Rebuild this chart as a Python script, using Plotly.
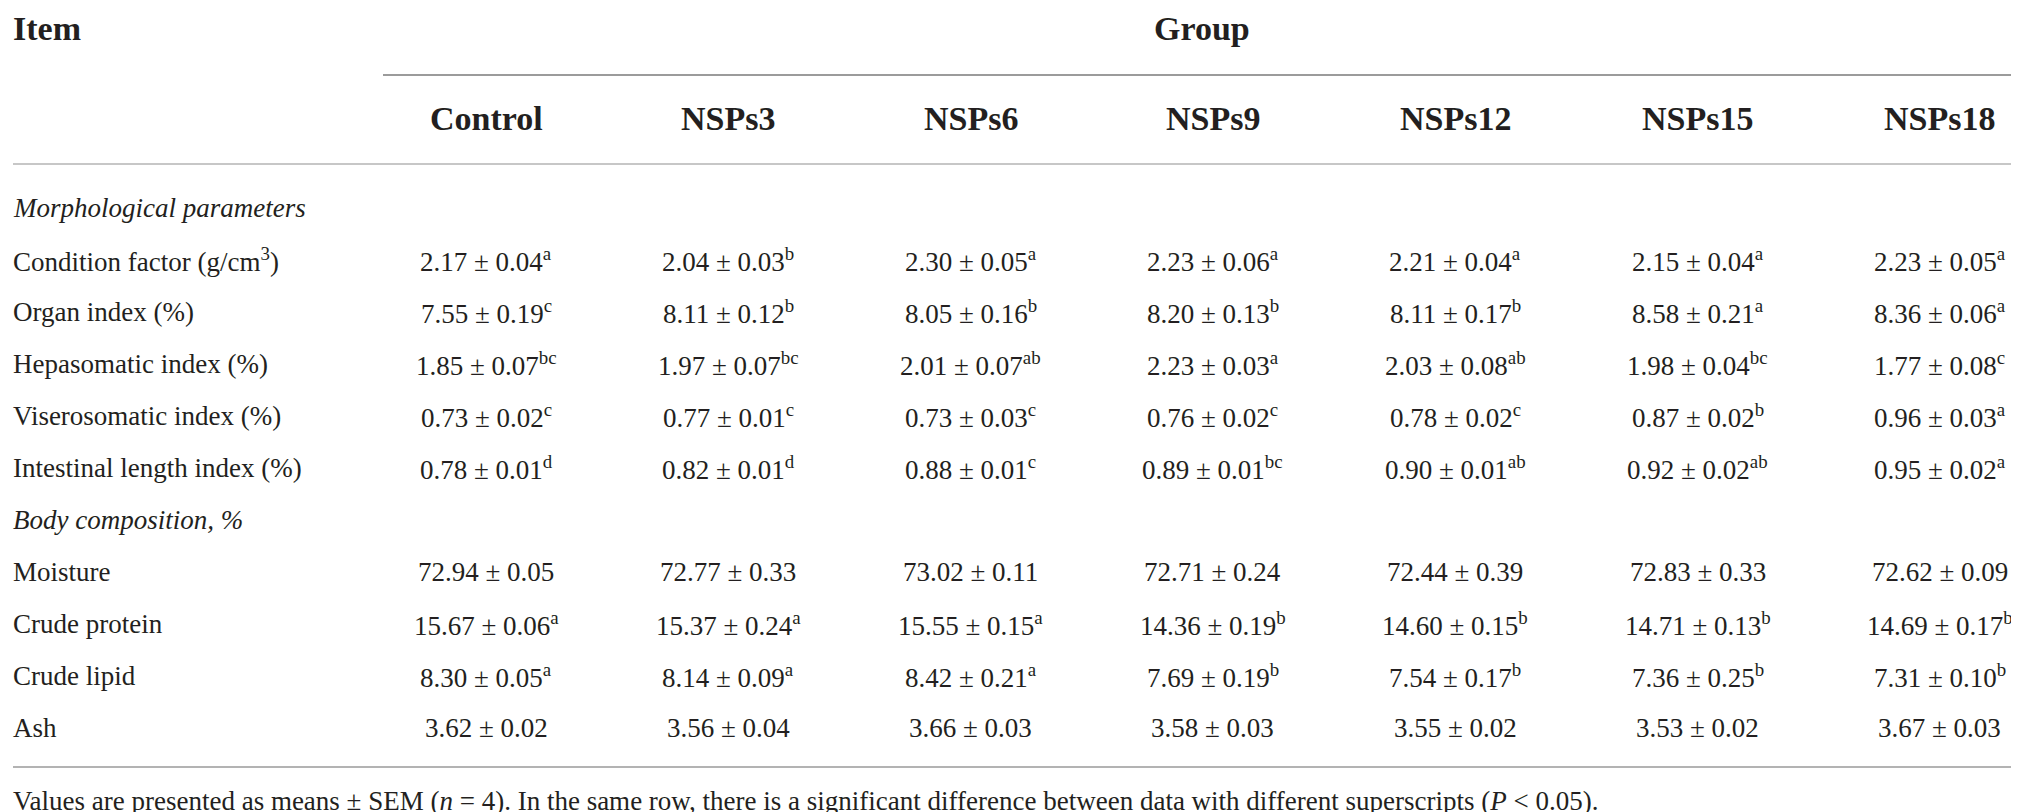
import plotly.graph_objects as go

# ---------------- data ----------------
groups = ["Control", "NSPs3", "NSPs6", "NSPs9", "NSPs12", "NSPs15", "NSPs18"]

section_morph = "Morphological parameters"
section_body = "Body composition, %"

items_morph = ["Condition factor (g/cm<sup>3</sup>)", "Organ index (%)", "Hepasomatic index (%)",
               "Viserosomatic index (%)", "Intestinal length index (%)"]
items_body = ["Moisture", "Crude protein", "Crude lipid", "Ash"]

condition_mean = ["2.17", "2.04", "2.30", "2.23", "2.21", "2.15", "2.23"]
condition_sem = ["0.04", "0.03", "0.05", "0.06", "0.04", "0.04", "0.05"]
condition_sig = ["a", "b", "a", "a", "a", "a", "a"]

organ_mean = ["7.55", "8.11", "8.05", "8.20", "8.11", "8.58", "8.36"]
organ_sem = ["0.19", "0.12", "0.16", "0.13", "0.17", "0.21", "0.06"]
organ_sig = ["c", "b", "b", "b", "b", "a", "a"]

hepa_mean = ["1.85", "1.97", "2.01", "2.23", "2.03", "1.98", "1.77"]
hepa_sem = ["0.07", "0.07", "0.07", "0.03", "0.08", "0.04", "0.08"]
hepa_sig = ["bc", "bc", "ab", "a", "ab", "bc", "c"]

visero_mean = ["0.73", "0.77", "0.73", "0.76", "0.78", "0.87", "0.96"]
visero_sem = ["0.02", "0.01", "0.03", "0.02", "0.02", "0.02", "0.03"]
visero_sig = ["c", "c", "c", "c", "c", "b", "a"]

intest_mean = ["0.78", "0.82", "0.88", "0.89", "0.90", "0.92", "0.95"]
intest_sem = ["0.01", "0.01", "0.01", "0.01", "0.01", "0.02", "0.02"]
intest_sig = ["d", "d", "c", "bc", "ab", "ab", "a"]

moisture_mean = ["72.94", "72.77", "73.02", "72.71", "72.44", "72.83", "72.62"]
moisture_sem = ["0.05", "0.33", "0.11", "0.24", "0.39", "0.33", "0.09"]
moisture_sig = ["", "", "", "", "", "", ""]

protein_mean = ["15.67", "15.37", "15.55", "14.36", "14.60", "14.71", "14.69"]
protein_sem = ["0.06", "0.24", "0.15", "0.19", "0.15", "0.13", "0.17"]
protein_sig = ["a", "a", "a", "b", "b", "b", "b"]

lipid_mean = ["8.30", "8.14", "8.42", "7.69", "7.54", "7.36", "7.31"]
lipid_sem = ["0.05", "0.09", "0.21", "0.19", "0.17", "0.25", "0.10"]
lipid_sig = ["a", "a", "a", "b", "b", "b", "b"]

ash_mean = ["3.62", "3.56", "3.66", "3.58", "3.55", "3.53", "3.67"]
ash_sem = ["0.02", "0.04", "0.03", "0.03", "0.02", "0.02", "0.03"]
ash_sig = ["", "", "", "", "", "", ""]

footnote = ("Values are presented as means \u00b1 SEM (<i>n</i> = 4). In the same row, there is a significant "
            "difference between data with different superscripts (<i>P</i> &lt; 0.05).")

# ---------------- layout constants ----------------
W, H = 2019, 812
FONT = "Liberation Serif"
TXT = "#231f20"
BODY = 27
HEAD = 34
col_x0, col_dx = 478, 242.3
label_x = 3
y_top = 20
y_colhead = 110
y_first = 200
row_dy = 52
y_foot = 793

rows = [
    (section_morph, None),
    (items_morph[0], (condition_mean, condition_sem, condition_sig)),
    (items_morph[1], (organ_mean, organ_sem, organ_sig)),
    (items_morph[2], (hepa_mean, hepa_sem, hepa_sig)),
    (items_morph[3], (visero_mean, visero_sem, visero_sig)),
    (items_morph[4], (intest_mean, intest_sem, intest_sig)),
    (section_body, None),
    (items_body[0], (moisture_mean, moisture_sem, moisture_sig)),
    (items_body[1], (protein_mean, protein_sem, protein_sig)),
    (items_body[2], (lipid_mean, lipid_sem, lipid_sig)),
    (items_body[3], (ash_mean, ash_sem, ash_sig)),
]


def cell(m, s, g):
    t = f"{m} \u00b1 {s}"
    if g:
        t += f"<sup>{g}</sup>"
    return t


fig = go.Figure()
# invisible anchor trace so the axes exist
fig.add_trace(go.Scatter(x=[0, W], y=[0, H], mode="markers", marker=dict(opacity=0),
                         hoverinfo="skip", showlegend=False))

annotations = []


def add_text(x, y, text, size, anchor="center"):
    annotations.append(dict(x=x, y=y, xref="x", yref="y", text=text, showarrow=False,
                            xanchor=anchor, yanchor="middle",
                            font=dict(family=FONT, size=size, color=TXT)))


for i, (lab, vals) in enumerate(rows):
    y = y_first + i * row_dy
    add_text(label_x, y, f"<i>{lab}</i>" if vals is None else lab, BODY, "left")
    if vals is None:
        continue
    m, s, g = vals
    for j in range(len(groups)):
        add_text(col_x0 + j * col_dx, y, cell(m[j], s[j], g[j]), BODY)

for j, gname in enumerate(groups):
    add_text(col_x0 + j * col_dx, y_colhead, f"<b>{gname}</b>", HEAD)

add_text(label_x, y_top, "<b>Item</b>", HEAD, "left")
add_text((375 + 2013) / 2, y_top, "<b>Group</b>", HEAD)
add_text(label_x, y_foot, footnote, BODY, "left")

shapes = [
    dict(type="line", xref="x", yref="y", x0=375, x1=2013, y0=67, y1=67,
         line=dict(color="#7a7a7a", width=1.5)),
    dict(type="line", xref="x", yref="y", x0=5, x1=2013, y0=156, y1=156,
         line=dict(color="#b5b5b5", width=1.5)),
    dict(type="line", xref="x", yref="y", x0=5, x1=2013, y0=759, y1=759,
         line=dict(color="#9a9a9a", width=1.5)),
]

fig.update_layout(
    width=W, height=H, margin=dict(l=0, r=0, t=0, b=0),
    paper_bgcolor="white", plot_bgcolor="white",
    xaxis=dict(range=[0, W], visible=False, fixedrange=True),
    yaxis=dict(range=[H, 0], visible=False, fixedrange=True),
    showlegend=False,
    annotations=annotations,
    shapes=shapes,
)

fig.write_html("out.html", config={"displayModeBar": False})
